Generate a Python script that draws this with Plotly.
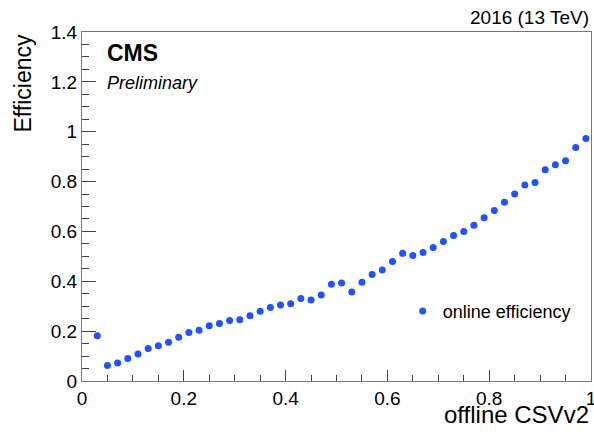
import plotly.graph_objects as go

# offline CSVv2 bin centres and online efficiency values
csv_bins = [0.03, 0.05, 0.07, 0.09, 0.11, 0.13, 0.15, 0.17, 0.19, 0.21,
            0.23, 0.25, 0.27, 0.29, 0.31, 0.33, 0.35, 0.37, 0.39, 0.41,
            0.43, 0.45, 0.47, 0.49, 0.51, 0.53, 0.55, 0.57, 0.59, 0.61,
            0.63, 0.65, 0.67, 0.69, 0.71, 0.73, 0.75, 0.77, 0.79, 0.81,
            0.83, 0.85, 0.87, 0.89, 0.91, 0.93, 0.95, 0.97, 0.99]
efficiency = [0.182, 0.062, 0.072, 0.090, 0.108, 0.130, 0.141, 0.155, 0.176, 0.195,
              0.204, 0.222, 0.231, 0.243, 0.246, 0.262, 0.280, 0.295, 0.305, 0.310,
              0.331, 0.325, 0.345, 0.388, 0.393, 0.357, 0.396, 0.427, 0.445, 0.479,
              0.512, 0.503, 0.515, 0.536, 0.560, 0.584, 0.600, 0.625, 0.655, 0.684,
              0.717, 0.750, 0.786, 0.796, 0.847, 0.867, 0.884, 0.937, 0.973]

FONT = "Liberation Sans, Arial, Helvetica, sans-serif"
BLUE = "#2152ff"

fig = go.Figure()
fig.add_trace(go.Scatter(
    x=csv_bins, y=efficiency, mode="markers",
    marker=dict(color=BLUE, size=7, line=dict(width=0)),
    name="online efficiency",
))

fig.update_layout(
    width=594, height=432,
    margin=dict(l=82, r=3, t=32, b=51),
    paper_bgcolor="white", plot_bgcolor="white",
    font=dict(family=FONT, color="black"),
    showlegend=True,
    legend=dict(x=0.63, y=0.2, xanchor="left", yanchor="middle",
                bgcolor="rgba(0,0,0,0)", font=dict(size=18, family=FONT),
                itemwidth=30),
)

fig.update_xaxes(
    range=[0, 1], tick0=0, dtick=0.2, ticks="inside", ticklen=11,
    tickcolor="#444", showline=True, linecolor="#777", linewidth=1, mirror=True,
    showgrid=False, zeroline=False, tickfont=dict(size=19, family=FONT),
    tickformat="~g", automargin=False, ticklabeloverflow="allow",
    minor=dict(dtick=0.05, tick0=0, ticks="inside", ticklen=6, tickcolor="#444", showgrid=False),
)
fig.update_yaxes(
    range=[0, 1.4], tick0=0, dtick=0.2, ticks="inside", ticklen=14,
    tickcolor="#444", showline=True, linecolor="#777", linewidth=1, mirror=True,
    showgrid=False, zeroline=False, tickfont=dict(size=19, family=FONT),
    tickformat="~g", automargin=False, ticklabeloverflow="allow",
    minor=dict(dtick=0.05, tick0=0, ticks="inside", ticklen=7, tickcolor="#444", showgrid=False),
)

fig.add_annotation(text="<b>CMS</b>", xref="paper", yref="paper",
                   x=(105 - 82) / 509, y=(381 - 52.5) / 349,
                   xanchor="left", yanchor="middle", showarrow=False,
                   font=dict(size=23, family=FONT))
fig.add_annotation(text="<i>Preliminary</i>", xref="paper", yref="paper",
                   x=(105 - 82) / 509, y=(381 - 83) / 349,
                   xanchor="left", yanchor="middle", showarrow=False,
                   font=dict(size=18, family=FONT))
fig.add_annotation(text="2016 (13 TeV)", xref="paper", yref="paper",
                   x=1.0, y=(381 - 17) / 349,
                   xanchor="right", yanchor="middle", showarrow=False,
                   font=dict(size=19, family=FONT))
fig.add_annotation(text="offline CSVv2", xref="paper", yref="paper",
                   x=1.0, y=(381 - 414) / 349,
                   xanchor="right", yanchor="middle", showarrow=False,
                   font=dict(size=24, family=FONT))
fig.add_annotation(text="Efficiency", xref="paper", yref="paper",
                   x=(22 - 82) / 509, y=1.0,
                   xanchor="center", yanchor="top", textangle=-90, showarrow=False,
                   font=dict(size=23, family=FONT))

fig.write_html("out.html", config={"displayModeBar": False},
               post_script="document.body.style.margin='0';document.body.style.padding='0';")
